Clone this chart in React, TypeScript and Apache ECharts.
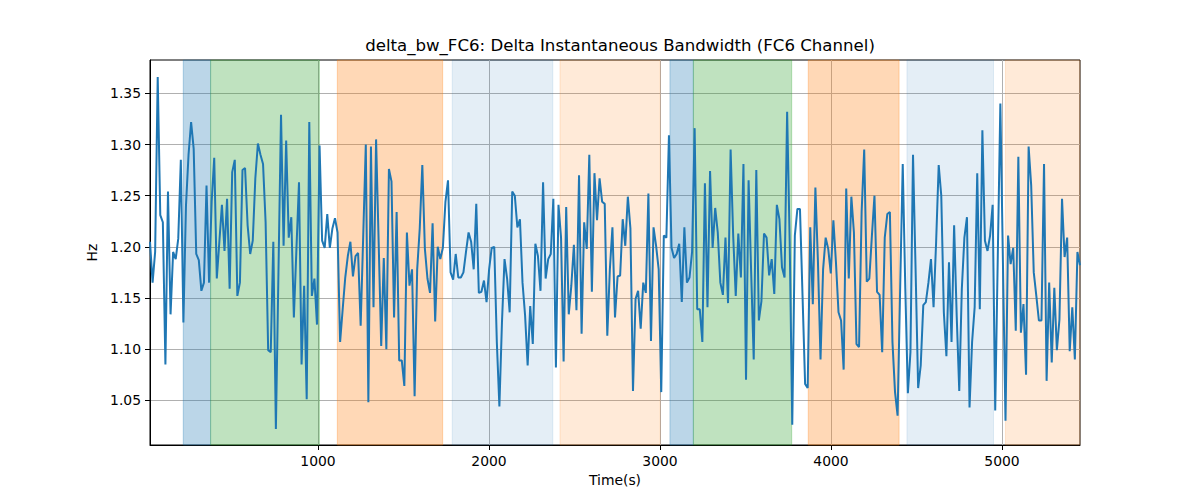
import React, { useEffect, useRef } from 'react';
import * as echarts from 'echarts';

// delta bandwidth samples (Hz), evenly spaced in time from T_START to T_END
const hzValues = [
  1.205, 1.165, 1.195, 1.366, 1.231, 1.224, 1.085, 1.254, 1.134, 1.195, 1.188, 1.208,
  1.285, 1.126, 1.24, 1.29, 1.322, 1.296, 1.193, 1.187, 1.157, 1.165, 1.26, 1.165,
  1.244, 1.287, 1.169, 1.205, 1.241, 1.196, 1.247, 1.159, 1.273, 1.285, 1.152, 1.165,
  1.275, 1.277, 1.221, 1.193, 1.206, 1.267, 1.301, 1.29, 1.281, 1.224, 1.099, 1.097,
  // 2
  1.205, 1.022, 1.175, 1.329, 1.201, 1.304, 1.209, 1.229, 1.131, 1.198, 1.263, 1.085,
  1.162, 1.051, 1.322, 1.152, 1.169, 1.124, 1.299, 1.206, 1.199, 1.232, 1.199, 1.218,
  1.228, 1.214, 1.107, 1.139, 1.17, 1.191, 1.205, 1.171, 1.191, 1.194, 1.123, 1.211,
  1.3, 1.048, 1.298, 1.141, 1.305, 1.205, 1.103, 1.189, 1.1,
  // 3
  1.276, 1.264, 1.131, 1.234, 1.089, 1.089, 1.064, 1.214, 1.162, 1.178, 1.054, 1.178,
  1.218, 1.28, 1.198, 1.169, 1.155, 1.223, 1.127, 1.2, 1.188, 1.199, 1.244, 1.265,
  1.175, 1.168, 1.193, 1.17, 1.17, 1.175, 1.195, 1.214, 1.205, 1.178, 1.242, 1.155,
  1.156, 1.167, 1.146, 1.178, 1.199, 1.2, 1.107, 1.044, 1.126, 1.188, 1.169,
  // 4
  1.136, 1.254, 1.25, 1.219, 1.227, 1.165, 1.133, 1.084, 1.142, 1.105, 1.203, 1.191,
  1.157, 1.263, 1.169, 1.188, 1.193, 1.247, 1.082, 1.241, 1.209, 1.088, 1.239, 1.134,
  1.162, 1.202, 1.138, 1.27, 1.115, 1.224, 1.198, 1.29, 1.156, 1.272, 1.226, 1.267,
  1.244, 1.242, 1.113, 1.178, 1.219, 1.131, 1.171, 1.172, 1.227, 1.201, 1.249,
  // 5
  1.218, 1.059, 1.149, 1.157, 1.12, 1.165, 1.155, 1.252, 1.108, 1.219, 1.201, 1.178,
  1.058, 1.211, 1.209, 1.309, 1.199, 1.189, 1.193, 1.203, 1.146, 1.219, 1.165, 1.17,
  1.195, 1.316, 1.139, 1.139, 1.107, 1.262, 1.141, 1.274, 1.199, 1.238, 1.214, 1.165,
  1.153, 1.209, 1.145, 1.295, 1.211, 1.152, 1.213, 1.17, 1.281, 1.07, 1.265,
  // 6
  1.175, 1.09, 1.275, 1.128, 1.147, 1.213, 1.209, 1.172, 1.188, 1.154, 1.241, 1.227,
  1.18, 1.17, 1.332, 1.205, 1.026, 1.211, 1.237, 1.237, 1.152, 1.066, 1.062, 1.219,
  1.144, 1.258, 1.185, 1.09, 1.178, 1.209, 1.198, 1.174, 1.226, 1.185, 1.136, 1.128,
  1.08, 1.257, 1.169, 1.249, 1.214, 1.105, 1.102, 1.234, 1.295, 1.166, 1.169,
  // 7
  1.211, 1.25, 1.156, 1.153, 1.097, 1.209, 1.232, 1.234, 1.107, 1.058, 1.035, 1.16,
  1.281, 1.159, 1.057, 1.097, 1.29, 1.178, 1.062, 1.084, 1.143, 1.146, 1.165, 1.188,
  1.141, 1.205, 1.28, 1.25, 1.136, 1.093, 1.185, 1.107, 1.221, 1.133, 1.059, 1.159,
  1.209, 1.229, 1.043, 1.107, 1.141, 1.272, 1.139, 1.314, 1.206, 1.196, 1.211,
  // 8
  1.241, 1.04, 1.191, 1.34, 1.185, 1.03, 1.211, 1.183, 1.199, 1.118, 1.288, 1.116,
  1.144, 1.075, 1.298, 1.26, 1.175, 1.152, 1.128, 1.128, 1.281, 1.069, 1.165, 1.087,
  1.16, 1.099, 1.129, 1.247, 1.19, 1.209, 1.098, 1.141, 1.09, 1.195, 1.182,
];

const T_START = 17.5;
const T_END = 5456;

const xTicks = [1000, 2000, 3000, 4000, 5000];
const yTicks = [1.05, 1.1, 1.15, 1.2, 1.25, 1.3, 1.35];
const Y_MIN = 1.0063;
const Y_MAX = 1.3826;

// shaded segments
const bandStart = [212, 372, 1113, 1785, 2415, 3058, 3195, 3867, 4444, 5020];
const bandEnd = [372, 1008, 1729, 2373, 3001, 3195, 3770, 4398, 4950, 5456];
const bandKind = ['blue', 'green', 'orange', 'lightblue', 'lightorange', 'blue', 'green', 'orange', 'lightblue', 'lightorange'];

const bandColors: Record<string, string> = {
  blue: 'rgba(31, 119, 180, 0.3)',
  green: 'rgba(44, 160, 44, 0.3)',
  orange: 'rgba(255, 127, 14, 0.3)',
  lightblue: 'rgba(31, 119, 180, 0.12)',
  lightorange: 'rgba(255, 127, 14, 0.16)',
};

const FONT = 'DejaVu Sans';

const App: React.FC = () => {
  const chartRef = useRef<HTMLDivElement>(null);

  useEffect(() => {
    if (!chartRef.current) return;
    const chart = echarts.init(chartRef.current, undefined, { renderer: 'svg' });

    const step = (T_END - T_START) / (hzValues.length - 1);
    const points = hzValues.map((v, i) => [T_START + i * step, v]);

    const areas = bandStart.map((s, i) => [
      {
        xAxis: s,
        itemStyle: {
          color: bandColors[bandKind[i]],
          borderColor: bandColors[bandKind[i]],
          borderWidth: 1,
        },
      },
      { xAxis: bandEnd[i] },
    ]);

    const option = {
      animation: false,
      title: {
        text: 'delta_bw_FC6: Delta Instantaneous Bandwidth (FC6 Channel)',
        left: 615,
        top: 32,
        textAlign: 'center',
        textStyle: {
          fontFamily: FONT,
          fontSize: 16.6,
          fontWeight: 'normal',
          color: '#000',
        },
      },
      grid: {
        left: 150,
        top: 60,
        right: 120,
        bottom: 55,
        show: true,
        borderColor: '#000',
        borderWidth: 1,
        backgroundColor: 'transparent',
      },
      xAxis: {
        type: 'value',
        min: T_START,
        max: T_END,
        name: 'Time(s)',
        nameLocation: 'middle',
        nameGap: 28,
        nameTextStyle: { fontFamily: FONT, fontSize: 13.9, color: '#000' },
        axisLine: { show: true, onZero: false, lineStyle: { color: '#000', width: 1 } },
        axisTick: {
          show: true,
          length: 5,
          lineStyle: { color: '#000' },
          customValues: xTicks,
        },
        axisLabel: {
          fontFamily: FONT,
          fontSize: 13.9,
          color: '#000',
          margin: 9,
          customValues: xTicks,
          formatter: (v: number) => String(Math.round(v)),
        },
        splitLine: { show: true, lineStyle: { color: '#b0b0b0', width: 1 } },
      },
      yAxis: {
        type: 'value',
        min: Y_MIN,
        max: Y_MAX,
        name: 'Hz',
        nameLocation: 'middle',
        nameGap: 46,
        nameRotate: 90,
        nameTextStyle: { fontFamily: FONT, fontSize: 13.9, color: '#000' },
        axisLine: { show: true, onZero: false, lineStyle: { color: '#000', width: 1 } },
        axisTick: {
          show: true,
          length: 5,
          lineStyle: { color: '#000' },
          customValues: yTicks,
        },
        axisLabel: {
          fontFamily: FONT,
          fontSize: 13.9,
          color: '#000',
          margin: 9,
          customValues: yTicks,
          formatter: (v: number) => v.toFixed(2),
        },
        splitLine: { show: true, lineStyle: { color: '#b0b0b0', width: 1 } },
      },
      series: [
        {
          name: 'delta_bw_FC6',
          type: 'line',
          data: points,
          showSymbol: false,
          symbol: 'none',
          lineStyle: { color: '#1f77b4', width: 2 },
          itemStyle: { color: '#1f77b4' },
          markArea: {
            silent: true,
            data: areas,
          },
        },
      ],
    };

    chart.setOption(option);

    return () => {
      chart.dispose();
    };
  }, []);

  return (
    <div
      ref={chartRef}
      style={{ position: 'fixed', left: 0, top: 0, width: '1200px', height: '500px', background: '#fff' }}
    />
  );
};

export default App;
